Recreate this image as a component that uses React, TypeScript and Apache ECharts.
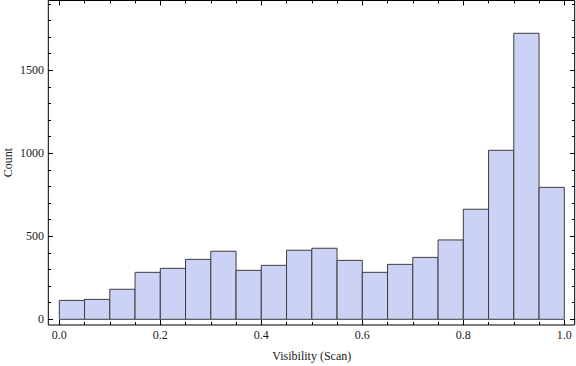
import React, { useEffect, useRef } from "react";
import * as echarts from "echarts";

const binEdges = [0, 0.05, 0.1, 0.15, 0.2, 0.25, 0.3, 0.35, 0.4, 0.45, 0.5, 0.55, 0.6, 0.65, 0.7, 0.75, 0.8, 0.85, 0.9, 0.95, 1.0];
const counts = [114, 120, 181, 283, 307, 361, 410, 295, 325, 416, 428, 355, 283, 331, 373, 478, 663, 1018, 1723, 795];
const xTitle = "Visibility (Scan)";
const yTitle = "Count";

const FONT = "'Liberation Serif', 'DejaVu Serif', serif";

export default function App() {
  const ref = useRef<HTMLDivElement>(null);
  useEffect(() => {
    if (!ref.current) return;
    const chart = echarts.init(ref.current, null, { renderer: "svg" });
    const data = counts.map((c, i) => [binEdges[i], binEdges[i + 1], c]);
    const tickStyle = { color: "#000", width: 1 };
    const baseX = {
      type: "value",
      min: 0,
      max: 1,
      interval: 0.2,
      axisLine: { show: false, onZero: false },
      axisTick: { show: true, inside: true, length: 5, lineStyle: tickStyle },
      minorTick: { show: true, splitNumber: 4, length: 3, lineStyle: tickStyle },
      splitLine: { show: false },
      minorSplitLine: { show: false },
    };
    const baseY = {
      type: "value",
      min: 0,
      max: 2000,
      interval: 500,
      axisLine: { show: false, onZero: false },
      axisTick: { show: true, inside: true, length: 5, lineStyle: tickStyle },
      minorTick: { show: true, splitNumber: 5, length: 3, lineStyle: tickStyle },
      splitLine: { show: false },
      minorSplitLine: { show: false },
    };
    chart.setOption({
      animation: false,
      backgroundColor: "#fff",
      textStyle: { fontFamily: FONT },
      grid: {
        left: 59.3,
        right: 11.7,
        top: -12.7,
        bottom: 46.7,
        containLabel: false,
        outerBoundsMode: "none",
      },
      xAxis: [
        {
          ...baseX,
          position: "bottom",
          offset: 5.7,
          axisLabel: {
            show: true,
            margin: 4,
            color: "#1a1a1a",
            fontFamily: FONT,
            fontSize: 12,
            formatter: (v: number) => v.toFixed(1),
          },
          name: xTitle,
          nameLocation: "middle",
          nameGap: 25,
          nameTextStyle: { color: "#1a1a1a", fontFamily: FONT, fontSize: 12 },
        },
        {
          ...baseX,
          position: "top",
          offset: -13.2,
          axisLabel: { show: false },
        },
      ],
      yAxis: [
        {
          ...baseY,
          position: "left",
          offset: 11.3,
          axisLabel: {
            show: true,
            margin: 4,
            color: "#1a1a1a",
            fontFamily: FONT,
            fontSize: 12,
            showMaxLabel: false,
            formatter: (v: number) => String(v),
          },
        },
        {
          ...baseY,
          position: "right",
          offset: 10.7,
          axisLabel: { show: false },
        },
      ],
      graphic: [
        {
          type: "rect",
          shape: { x: 48.3, y: 0.5, width: 526.4, height: 324.5 },
          style: { fill: "none", stroke: "#000", lineWidth: 1 },
          z: 100,
          silent: true,
        },
        {
          type: "text",
          x: 8,
          y: 162.5,
          rotation: Math.PI / 2,
          style: {
            text: yTitle,
            fill: "#1a1a1a",
            font: `12px ${FONT}`,
            align: "center",
            verticalAlign: "middle",
          },
          silent: true,
        },
      ],
      series: [
        {
          type: "custom",
          xAxisIndex: 0,
          yAxisIndex: 0,
          data,
          clip: false,
          renderItem: (params: any, api: any) => {
            const p0 = api.coord([api.value(0), api.value(2)]);
            const p1 = api.coord([api.value(1), 0]);
            return {
              type: "rect",
              shape: { x: p0[0], y: p0[1], width: p1[0] - p0[0], height: p1[1] - p0[1] },
              style: { fill: "#CCD2F5", stroke: "#3c3c3c", lineWidth: 1 },
            };
          },
        },
      ],
    });
    return () => chart.dispose();
  }, []);
  return <div ref={ref} style={{ width: 576, height: 366, position: "absolute", left: 0, top: 0 }} />;
}
